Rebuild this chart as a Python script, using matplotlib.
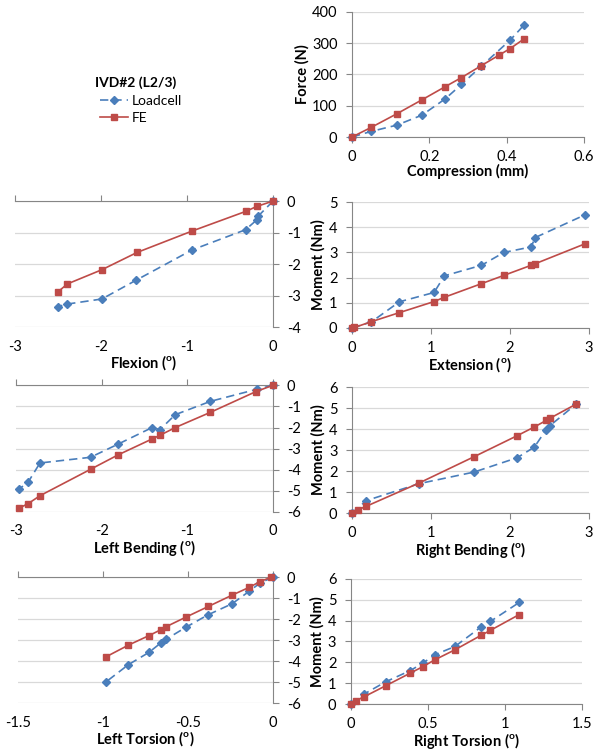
import matplotlib.pyplot as plt
from matplotlib.ticker import FuncFormatter, MultipleLocator

plt.rcParams['font.family'] = ['Lato', 'DejaVu Sans']
plt.rcParams['axes.unicode_minus'] = False

BLUE = '#4A7EBB'
RED = '#BE4B48'
GRID = '#D9D9D9'
AXIS = '#868686'

# Compression (mm) vs Force (N)
comp_lc_x = [0, 0.05, 0.116, 0.181, 0.241, 0.283, 0.334, 0.409, 0.444]
comp_lc_y = [0, 18, 38, 70, 122, 168, 226, 310, 357]
comp_fe_x = [0, 0.05, 0.117, 0.181, 0.241, 0.283, 0.334, 0.379, 0.409, 0.444]
comp_fe_y = [0, 31, 75, 119, 161, 190, 228, 261, 283, 313]

# Flexion
flex_lc_x = [0, -0.17, -0.19, -0.32, -0.94, -1.59, -1.99, -2.39, -2.50]
flex_lc_y = [0, -0.47, -0.60, -0.91, -1.55, -2.51, -3.11, -3.27, -3.35]
flex_fe_x = [0, -0.19, -0.31, -0.94, -1.58, -1.99, -2.39, -2.50]
flex_fe_y = [0, -0.17, -0.32, -0.95, -1.63, -2.18, -2.63, -2.88]

# Extension
ext_lc_x = [0, 0.245, 0.60, 1.04, 1.17, 1.64, 1.925, 2.27, 2.32, 2.95]
ext_lc_y = [0, 0.24, 1.04, 1.41, 2.07, 2.49, 3.00, 3.22, 3.59, 4.49]
ext_fe_x = [0, 0.03, 0.245, 0.60, 1.04, 1.17, 1.64, 1.925, 2.27, 2.32, 2.95]
ext_fe_y = [0, 0.02, 0.25, 0.61, 1.05, 1.22, 1.76, 2.09, 2.49, 2.55, 3.34]

# Left bending
lb_lc_x = [0, -0.19, -0.73, -1.14, -1.32, -1.41, -1.81, -2.13, -2.72, -2.86, -2.97]
lb_lc_y = [0, -0.19, -0.76, -1.39, -2.10, -2.00, -2.79, -3.41, -3.68, -4.60, -4.93]
lb_fe_x = [0, -0.20, -0.73, -1.14, -1.32, -1.41, -1.81, -2.13, -2.72, -2.86, -2.97]
lb_fe_y = [0, -0.30, -1.28, -2.00, -2.37, -2.54, -3.30, -3.98, -5.23, -5.61, -5.83]

# Right bending
rb_lc_x = [0, 0.18, 0.85, 1.545, 2.09, 2.31, 2.46, 2.51, 2.84]
rb_lc_y = [0, 0.59, 1.40, 1.95, 2.63, 3.14, 3.97, 4.17, 5.19]
rb_fe_x = [0, 0.08, 0.18, 0.85, 1.545, 2.09, 2.31, 2.46, 2.51, 2.84]
rb_fe_y = [0, 0.16, 0.32, 1.43, 2.68, 3.68, 4.10, 4.41, 4.52, 5.19]

# Left torsion
lt_lc_x = [0, -0.077, -0.14, -0.24, -0.38, -0.51, -0.63, -0.66, -0.73, -0.85, -0.98]
lt_lc_y = [0, -0.29, -0.68, -1.27, -1.79, -2.38, -2.97, -3.14, -3.59, -4.17, -4.98]
lt_fe_x = [-0.01, -0.077, -0.14, -0.24, -0.38, -0.51, -0.63, -0.66, -0.73, -0.85, -0.98]
lt_fe_y = [0, -0.22, -0.49, -0.86, -1.40, -1.90, -2.37, -2.51, -2.79, -3.24, -3.79]

# Right torsion
rt_lc_x = [0, 0.086, 0.227, 0.385, 0.467, 0.545, 0.676, 0.845, 0.906, 1.094]
rt_lc_y = [0, 0.48, 1.07, 1.60, 1.96, 2.36, 2.76, 3.69, 3.96, 4.87]
rt_fe_x = [0, 0.032, 0.086, 0.227, 0.385, 0.467, 0.545, 0.676, 0.845, 0.906, 1.094]
rt_fe_y = [0, 0.16, 0.35, 0.88, 1.48, 1.79, 2.12, 2.60, 3.29, 3.53, 4.29]

fmt = FuncFormatter(lambda v, p: '{:g}'.format(round(v, 3)))


def draw(ax, lc_x, lc_y, fe_x, fe_y, xlim, ylim, xstep, ystep, xlabel, ylabel=None, neg=False):
    ax.plot(lc_x, lc_y, color=BLUE, lw=1.2, dashes=(5, 3), marker='D', ms=3.8,
            mec=BLUE, mfc=BLUE, label='Loadcell', zorder=3, clip_on=False)
    ax.plot(fe_x, fe_y, color=RED, lw=1.2, marker='s', ms=5, mec=RED, mfc=RED,
            label='FE', zorder=4, clip_on=False)
    ax.set_xlim(xlim)
    ax.set_ylim(ylim)
    ax.xaxis.set_major_locator(MultipleLocator(xstep))
    ax.yaxis.set_major_locator(MultipleLocator(ystep))
    ax.xaxis.set_major_formatter(fmt)
    ax.yaxis.set_major_formatter(fmt)
    ax.grid(axis='y', color=GRID, lw=0.9)
    ax.set_axisbelow(True)
    for s in ax.spines.values():
        s.set_visible(False)
        s.set_color(AXIS)
    if neg:
        ax.spines['top'].set_visible(True)
        ax.spines['right'].set_visible(True)
        ax.tick_params(axis='x', top=True, bottom=False, labeltop=False, labelbottom=True,
                       direction='out', length=4, color=AXIS, labelsize=10.5, pad=5)
        ax.tick_params(axis='y', right=True, left=False, labelright=True, labelleft=False,
                       direction='out', length=4, color=AXIS, labelsize=10.5, pad=6)
    else:
        ax.spines['left'].set_visible(True)
        ax.spines['bottom'].set_visible(True)
        ax.tick_params(axis='x', direction='out', length=4, color=AXIS, labelsize=10.5, pad=5.5)
        ax.tick_params(axis='y', direction='out', length=4, color=AXIS, labelsize=10.5, pad=6.5)
    ax.set_xlabel(xlabel, fontsize=10.5, fontweight='bold', labelpad=0)
    if ylabel:
        ax.set_ylabel(ylabel, fontsize=10.5, fontweight='bold', labelpad=2)


fig = plt.figure(figsize=(6.01, 7.54), dpi=100)

ax1 = fig.add_axes([0.5857, 0.8183, 0.386, 0.1658])
draw(ax1, comp_lc_x, comp_lc_y, comp_fe_x, comp_fe_y, (0, 0.6), (0, 400), 0.2, 100,
     'Compression (mm)', 'Force (N)')

ax2 = fig.add_axes([0.025, 0.5663, 0.4293, 0.167])
draw(ax2, flex_lc_x, flex_lc_y, flex_fe_x, flex_fe_y, (-3, 0), (-4, 0), 1, 1,
     'Flexion ($^{\\mathregular{o}}$)', neg=True)

ax3 = fig.add_axes([0.5857, 0.565, 0.394, 0.167])
draw(ax3, ext_lc_x, ext_lc_y, ext_fe_x, ext_fe_y, (0, 3), (0, 5), 1, 1,
     'Extension ($^{\\mathregular{o}}$)', 'Moment (Nm)')

ax4 = fig.add_axes([0.0266, 0.321, 0.4276, 0.168])
draw(ax4, lb_lc_x, lb_lc_y, lb_fe_x, lb_fe_y, (-3, 0), (-6, 0), 1, 1,
     'Left Bending ($^{\\mathregular{o}}$)', neg=True)

ax5 = fig.add_axes([0.5857, 0.3196, 0.394, 0.167])
draw(ax5, rb_lc_x, rb_lc_y, rb_fe_x, rb_fe_y, (0, 3), (0, 6), 1, 1,
     'Right Bending ($^{\\mathregular{o}}$)', 'Moment (Nm)')

ax6 = fig.add_axes([0.030, 0.0676, 0.424, 0.167])
draw(ax6, lt_lc_x, lt_lc_y, lt_fe_x, lt_fe_y, (-1.5, 0), (-6, 0), 0.5, 1,
     'Left Torsion ($^{\\mathregular{o}}$)', neg=True)

ax7 = fig.add_axes([0.584, 0.0663, 0.384, 0.166])
draw(ax7, rt_lc_x, rt_lc_y, rt_fe_x, rt_fe_y, (0, 1.5), (0, 6), 0.5, 1,
     'Right Torsion ($^{\\mathregular{o}}$)', 'Moment (Nm)')

fig.text(95 / 601, 1 - 83 / 754, 'IVD#2 (L2/3)', fontsize=10, fontweight='bold',
         ha='left', va='center')
h, l = ax1.get_legend_handles_labels()
fig.legend(h, l, loc='upper left', bbox_to_anchor=(100 / 601, 1 - 95 / 754), frameon=False,
           fontsize=10, handlelength=2.0, handletextpad=0.3, borderpad=0, borderaxespad=0,
           labelspacing=0.35)

fig.savefig('out.png', dpi=100)
